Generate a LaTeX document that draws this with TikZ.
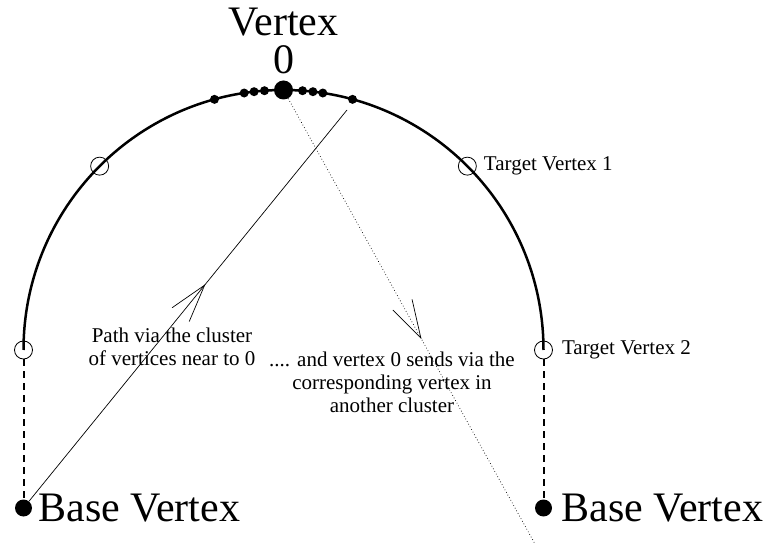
\documentclass[tikz,border=0pt]{standalone}
\usepackage{fontspec}
\setmainfont{Liberation Serif}
\usetikzlibrary{calc,positioning,arrows.meta,decorations.markings}
\newcommand{\petitcorps}{\fontsize{21}{23}\selectfont}
\newcommand{\grandcorps}{\fontsize{42}{38}\selectfont}

\begin{document}
\begin{tikzpicture}[x=1pt,y=1pt]
        \tikzstyle{open_vertex} = [circle, draw=black, line width=0.8pt, inner sep=0pt, minimum size=18pt]
        \tikzstyle{cluster_vertex} = [circle, fill=black, inner sep=0pt, minimum size=9pt]
        \tikzstyle{centre_vertex} = [circle, fill=black, inner sep=0pt, minimum size=19pt]
        \tikzstyle{base_vertex} = [circle, fill=black, inner sep=0pt, minimum size=17pt]
        \tikzstyle{small_label} = [font=\petitcorps, inner sep=0pt]
        \tikzstyle{big_label} = [font=\grandcorps, inner sep=0pt]
        \tikzstyle{dashed_line} = [line width=2pt, dash pattern=on 7pt off 5pt]
        \tikzset{mid_arrow/.style={decoration={markings, mark=at position #1 with {\arrow{Straight Barb[length=38pt,width=22pt]}}}, postaction={decorate}}}
        \fill[white] (0,0) rectangle (780,547);
        \useasboundingbox (0,0) rectangle (780,547);
        \coordinate (centre) at (283.5,197);
        \node (target_left_low) [open_vertex] at ($(centre)+(180:260pt)$) {};
        \node (target_left_high) [open_vertex] at ($(centre)+(135:260pt)$) {};
        \node (target_one) [open_vertex] at ($(centre)+(45:260pt)$) {};
        \node (target_two) [open_vertex] at ($(centre)+(0:260pt)$) {};
        \draw[line width=2.5pt] (target_left_low.center) arc (180:0:260pt);
        \node (vertex_zero) [centre_vertex] at ($(centre)+(90:260pt)$) {};
        \foreach \a [count=\i] in {-15.4,-8.7,-6.5,-4.2,4.2,6.5,8.7,15.4}
                \node (cluster_\i) [cluster_vertex] at ($(centre)+(90+\a:260pt)$) {};
        \node (base_left) [base_vertex] at (23.5,39) {};
        \node (base_right) [base_vertex] at (543.5,39) {};
        \draw[dashed_line] (target_left_low) -- (base_left);
        \draw[dashed_line] (target_two) -- (base_right);
        \node (vertex_zero_label) [big_label, align=center, above=6pt of vertex_zero] {Vertex\\0};
        \node (base_left_label) [big_label, right=6pt of base_left] {Base Vertex};
        \node (base_right_label) [big_label, right=9pt of base_right] {Base Vertex};
        \node (target_one_label) [small_label, right=7pt of target_one] {Target Vertex 1};
        \node (target_two_label) [small_label, right=9pt of target_two] {Target Vertex 2};
        \coordinate (path_end) at (347,437);
        \coordinate (send_end) at (535,3);
        \draw[line width=0.7pt, mid_arrow=0.555] (base_left) -- (path_end);
        \draw[line width=0.7pt, dash pattern=on 0.7pt off 2.3pt, mid_arrow=0.54] (vertex_zero) -- (send_end);
        \node (path_label) [small_label, align=center] at (172,200) {Path via the cluster\\of vertices near to 0};
        \node (send_label) [small_label, align=center] at (392,165) {.... and vertex 0 sends via the\\corresponding vertex in\\another cluster};
\end{tikzpicture}
\end{document}
